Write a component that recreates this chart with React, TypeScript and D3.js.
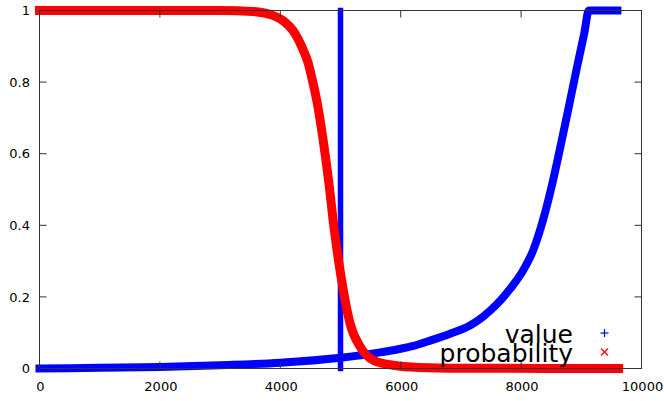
import React from "react";
import * as d3 from "d3";

// "value" series: x position and value
const valueX = [0, 1000, 2000, 3000, 4000, 5000, 5660, 6210, 6490, 6820, 7150, 7370, 7600, 7820, 8030, 8200, 8365, 8530, 8700, 8816, 8930, 9050, 9125, 9600];
const valueY = [0, 0.002, 0.004, 0.009, 0.016, 0.03, 0.045, 0.063, 0.078, 0.097, 0.12, 0.145, 0.18, 0.223, 0.273, 0.33, 0.415, 0.525, 0.657, 0.75, 0.843, 0.937, 1, 1];

// "probability" series
const probX = [0, 2340, 3000, 3550, 3830, 4050, 4215, 4380, 4460, 4540, 4610, 4710, 4815, 4880, 4960, 5045, 5160, 5330, 5545, 5875, 6300, 7000, 9620];
const probY = [1, 1, 1, 0.997, 0.989, 0.971, 0.943, 0.89, 0.855, 0.8, 0.745, 0.64, 0.507, 0.41, 0.31, 0.22, 0.125, 0.06, 0.023, 0.009, 0.003, 0.001, 0];

// vertical marker of the value series
const markerX = 5000;

const xTicks = [0, 2000, 4000, 6000, 8000, 10000];
const yTicks = [0, 0.2, 0.4, 0.6, 0.8, 1];
const seriesNames = ["value", "probability"];

const W = 664;
const H = 401;

export default function App() {
  const x = d3.scaleLinear().domain([0, 10000]).range([39.5, 641.5]);
  const y = d3.scaleLinear().domain([0, 1]).range([368.5, 10.5]);

  const line = d3
    .line<[number, number]>()
    .x((d) => x(d[0]))
    .y((d) => y(d[1]))
    .curve(d3.curveMonotoneX);

  const valuePts = valueX.map((v, i) => [v, valueY[i]] as [number, number]);
  const probPts = probX.map((v, i) => [v, probY[i]] as [number, number]);

  const tickLen = 7;
  const font = "'DejaVu Sans', sans-serif";
  const axisColor = "#333";

  return (
    <svg
      width={W}
      height={H}
      style={{ position: "absolute", left: 0, top: 0, background: "#fff" }}
    >
      <rect x={0} y={0} width={W} height={H} fill="#fff" />

      {/* value series */}
      <path d={line(valuePts) || ""} fill="none" stroke="#0000ff" strokeWidth={8} strokeLinecap="square" strokeLinejoin="round" />
      <line x1={x(markerX)} x2={x(markerX)} y1={y(0)} y2={y(1)} stroke="#0000ff" strokeWidth={5.5} strokeLinecap="square" />

      {/* probability series */}
      <path d={line(probPts) || ""} fill="none" stroke="#ff0000" strokeWidth={9} strokeLinecap="square" strokeLinejoin="round" />

      {/* border */}
      <rect x={x(0)} y={y(1)} width={x(10000) - x(0)} height={y(0) - y(1)} fill="none" stroke={axisColor} strokeWidth={1} />

      {/* x ticks */}
      {xTicks.map((t) => (
        <g key={"x" + t}>
          <line x1={x(t)} x2={x(t)} y1={y(0)} y2={y(0) - tickLen} stroke={axisColor} />
          <line x1={x(t)} x2={x(t)} y1={y(1)} y2={y(1) + tickLen} stroke={axisColor} />
          <text x={x(t) + 1} y={391} textAnchor="middle" fontFamily={font} fontSize={13} fill="#000">
            {t}
          </text>
        </g>
      ))}

      {/* y ticks */}
      {yTicks.map((t) => (
        <g key={"y" + t}>
          <line x1={x(0)} x2={x(0) + tickLen} y1={y(t)} y2={y(t)} stroke={axisColor} />
          <line x1={x(10000)} x2={x(10000) - tickLen} y1={y(t)} y2={y(t)} stroke={axisColor} />
          <text x={30} y={y(t)} dy="0.36em" textAnchor="end" fontFamily={font} fontSize={13} fill="#000">
            {d3.format("~g")(t)}
          </text>
        </g>
      ))}

      {/* legend */}
      <text x={573} y={343} textAnchor="end" fontFamily={font} fontSize={25} fill="#000">
        {seriesNames[0]}
      </text>
      <text x={573} y={362} textAnchor="end" fontFamily={font} fontSize={25} fill="#000">
        {seriesNames[1]}
      </text>
      <g stroke="#0000ff" strokeWidth={1.2}>
        <line x1={600.5} x2={608.5} y1={333} y2={333} />
        <line x1={604.5} x2={604.5} y1={329} y2={337} />
      </g>
      <g stroke="#ff0000" strokeWidth={1.2}>
        <line x1={601} x2={608} y1={348.5} y2={355.5} />
        <line x1={601} x2={608} y1={355.5} y2={348.5} />
      </g>
    </svg>
  );
}
